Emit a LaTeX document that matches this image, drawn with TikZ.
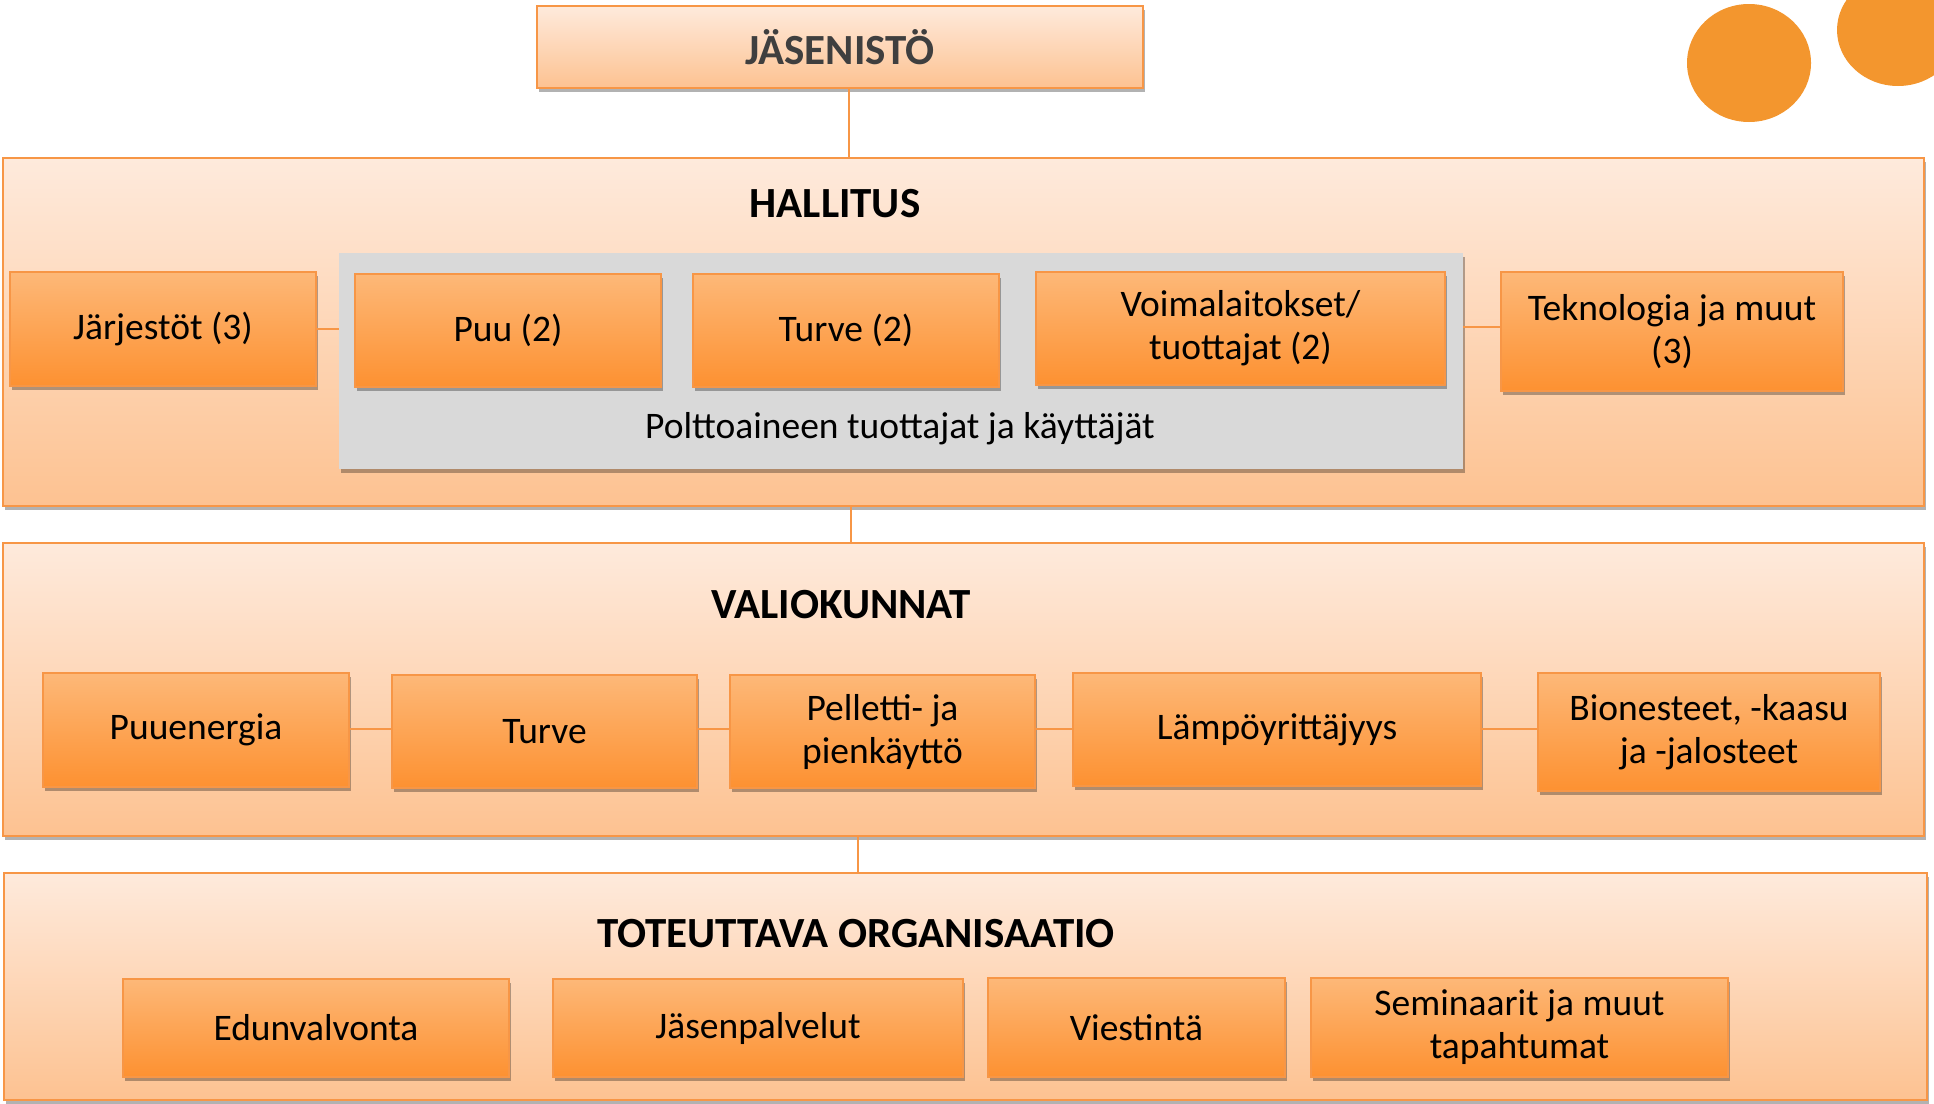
\documentclass[tikz,border=0pt]{standalone}
\usepackage{fontspec}
\setmainfont{Carlito}
\usetikzlibrary{shadows}
\definecolor{obord}{HTML}{F79646}
\definecolor{otop}{HTML}{FDB878}
\definecolor{obot}{HTML}{FD9131}
\definecolor{ltop}{HTML}{FEEADC}
\definecolor{lbot}{HTML}{FDC291}
\definecolor{graybox}{HTML}{D9D9D9}
\definecolor{dot}{HTML}{F3962E}
\definecolor{titlegray}{HTML}{3F3F3F}
\tikzset{
  shad/.style={drop shadow={shadow xshift=1.5pt, shadow yshift=-4pt, opacity=0.3, fill=black}},
  outerbox/.style={draw=obord, line width=2pt, top color=ltop, bottom color=lbot, shad, inner sep=0pt},
  orbox/.style={draw=obord, line width=1.5pt, top color=otop, bottom color=obot, shad, inner sep=0pt, align=center,
    font=\fontsize{37.5}{43}\selectfont, text=black},
  grbox/.style={fill=graybox, shad, inner sep=0pt},
  ttl/.style={font=\fontsize{43}{48}\selectfont\bfseries, text=black, inner sep=0pt},
  conn/.style={draw=obord, line width=1.5pt},
}
\begin{document}
\begin{tikzpicture}[x=1pt,y=-1pt]
\useasboundingbox (0,0) rectangle (1934,1103);
% decorative dots
\begin{scope}
\clip (0,0) rectangle (1934,1103);
\fill[dot] (1749,63) ellipse [x radius=62pt, y radius=59pt];
\fill[dot] (1898,30) ellipse [x radius=61pt, y radius=56pt];
\end{scope}
% JÄSENISTÖ
\node[orbox, top color=ltop, bottom color=lbot, minimum width=606pt, minimum height=82pt,
  font=\fontsize{43}{48}\selectfont\bfseries, text=titlegray] (jas) at (840,47) {JÄSENISTÖ};
% HALLITUS
\node[outerbox, minimum width=1921pt, minimum height=348pt] (hall) at (963.5,332) {};
\node[ttl] (hallt) at (835,204) {HALLITUS};
\node[grbox, minimum width=1124pt, minimum height=216pt] (gray) at (901,361) {};
\node[orbox, minimum width=306pt, minimum height=114pt] (jarj) at (163,329) {Järjestöt (3)};
\node[orbox, minimum width=306pt, minimum height=113pt] (puu) at (508,330.5) {Puu (2)};
\node[orbox, minimum width=306pt, minimum height=113pt] (turve2) at (846,330.5) {Turve (2)};
\node[orbox, minimum width=409pt, minimum height=113pt] (voima) at (1240.5,328.5) {Voimalaitokset/\\tuottajat (2)};
\node[orbox, minimum width=342pt, minimum height=119pt] (tekno) at (1672,331.5) {Teknologia ja muut\\(3)};
\node[inner sep=0pt, font=\fontsize{37.5}{43}\selectfont] (polt) at (900,429) {Polttoaineen tuottajat ja käyttäjät};
\draw[conn] (jarj.east) -- (jarj.east -| gray.west);
\draw[conn] (tekno.west |- 0,327) -- (gray.east |- 0,327);
% VALIOKUNNAT
\node[outerbox, minimum width=1921pt, minimum height=293pt] (val) at (963.5,689.5) {};
\node[ttl] (valt) at (841,605) {VALIOKUNNAT};
\node[orbox, minimum width=306pt, minimum height=114pt] (puuen) at (196,730) {Puuenergia};
\node[orbox, minimum width=305pt, minimum height=113pt] (turve) at (544.5,731.5) {Turve};
\node[orbox, minimum width=305pt, minimum height=113pt] (pell) at (882.5,731.5) {Pelletti- ja\\pienkäyttö};
\node[orbox, minimum width=408pt, minimum height=113pt] (lampo) at (1277,729.5) {Lämpöyrittäjyys};
\node[orbox, minimum width=342pt, minimum height=118pt] (bio) at (1709,732) {Bionesteet, -kaasu\\ja -jalosteet};
\draw[conn] (puuen.east |- 0,729) -- (turve.west |- 0,729);
\draw[conn] (turve.east |- 0,729) -- (pell.west |- 0,729);
\draw[conn] (pell.east |- 0,729) -- (lampo.west |- 0,729);
\draw[conn] (lampo.east |- 0,729) -- (bio.west |- 0,729);
% TOTEUTTAVA ORGANISAATIO
\node[outerbox, minimum width=1923pt, minimum height=227pt] (tot) at (965.5,986.5) {};
\node[ttl] (tott) at (856,934) {TOTEUTTAVA ORGANISAATIO};
\node[orbox, minimum width=386pt, minimum height=98pt] (edun) at (316,1028) {Edunvalvonta};
\node[orbox, minimum width=410pt, minimum height=98pt] (jasp) at (758,1028) {Jäsenpalvelut};
\node[orbox, minimum width=297pt, minimum height=99pt] (viest) at (1136.5,1027.5) {Viestintä};
\node[orbox, minimum width=417pt, minimum height=99pt] (semi) at (1519.5,1027.5) {Seminaarit ja muut\\tapahtumat};
% vertical connectors
\draw[conn] (jas.south -| 849,0) -- (hall.north -| 849,0);
\draw[conn] (hall.south -| 851,0) -- (val.north -| 851,0);
\draw[conn] (val.south -| 858,0) -- (tot.north -| 858,0);
\end{tikzpicture}
\end{document}
